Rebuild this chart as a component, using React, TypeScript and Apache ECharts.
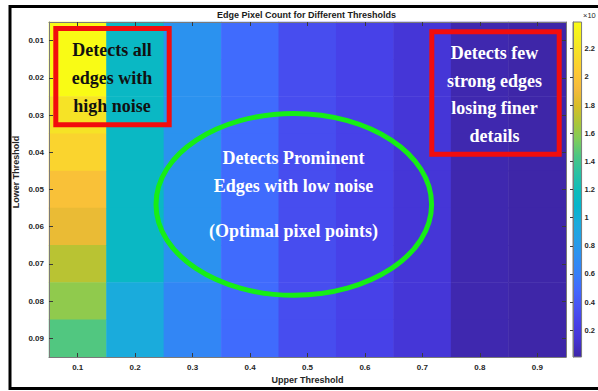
import { useEffect, useRef } from 'react';
import * as echarts from 'echarts';

// Axis categories
const upperThresholds = ['0.1', '0.2', '0.3', '0.4', '0.5', '0.6', '0.7', '0.8', '0.9'];
const lowerThresholds = ['0.01', '0.02', '0.03', '0.04', '0.05', '0.06', '0.07', '0.08', '0.09'];

// Edge pixel counts for each lower threshold, ordered by upper threshold
const countsLower001 = [23900, 11300, 7500, 5000, 3300, 2600, 1600, 300, 100];
const countsLower002 = [23900, 11300, 7500, 5000, 3300, 2600, 1600, 300, 100];
const countsLower003 = [22000, 11300, 7500, 5000, 3300, 2600, 1600, 300, 100];
const countsLower004 = [21000, 11300, 7500, 5000, 3300, 2600, 1600, 300, 100];
const countsLower005 = [19700, 11300, 7500, 5000, 3300, 2600, 1600, 300, 100];
const countsLower006 = [18700, 11300, 7500, 5000, 3300, 2600, 1600, 300, 100];
const countsLower007 = [17100, 11300, 7500, 5000, 3300, 2600, 1600, 300, 100];
const countsLower008 = [16000, 9600, 6500, 5000, 3300, 2600, 1600, 300, 100];
const countsLower009 = [14500, 9600, 6500, 5000, 3300, 2600, 1600, 300, 100];

const edgeCounts = [
  countsLower001, countsLower002, countsLower003, countsLower004, countsLower005,
  countsLower006, countsLower007, countsLower008, countsLower009,
];

// Colorbar tick values (labelled in units of 10^4)
const colorbarTicks = [2000, 4000, 6000, 8000, 10000, 12000, 14000, 16000, 18000, 20000, 22000];

// Parula colormap
const parula = [
  '#3e26a8', '#4433d1', '#473fe7', '#4753f3', '#4268fe', '#3580f8', '#2d8ff1', '#249fe6',
  '#1aabdc', '#06b5cc', '#0fbcb9', '#2ac1a2', '#4cc684', '#80cc59', '#acc638', '#d8bd28',
  '#f5ba3c', '#fec933', '#f7dc2a', '#f5ee20', '#f9fb15',
];

const sansFont = '"Liberation Sans", Arial, sans-serif';
const serifFont = '"Liberation Serif", "Times New Roman", serif';
const axisGray = '#7a7a7a';
const tickGray = '#3a3a3a';

export default function App() {
  const ref = useRef<HTMLDivElement>(null);

  useEffect(() => {
    if (!ref.current) return;
    const chart = echarts.init(ref.current, undefined, { renderer: 'svg' });

    const heatData: number[][] = [];
    edgeCounts.forEach((row, yi) => row.forEach((v, xi) => heatData.push([xi, yi, v])));
    const all = edgeCounts.flat();
    const countMin = Math.min(...all);
    const countMax = Math.max(...all);

    const labelStyle = {
      color: '#262626',
      fontSize: 8,
      fontWeight: 'bold' as const,
      fontFamily: sansFont,
    };
    const inTick = {
      show: true,
      inside: true,
      alignWithLabel: true,
      length: 4,
      lineStyle: { color: tickGray, width: 1 },
    };
    const boxLine = { show: true, lineStyle: { color: axisGray, width: 1 } };

    const gradientStops = parula.map((c, i) => ({ offset: i / (parula.length - 1), color: c }));

    chart.setOption({
      animation: false,
      backgroundColor: '#ffffff',
      title: {
        text: 'Edge Pixel Count for Different Thresholds',
        left: 217,
        top: 10,
        padding: 0,
        textStyle: { fontSize: 9, fontWeight: 'bold', color: '#1a1a1a', fontFamily: sansFont },
      },
      grid: [
        { left: 49, top: 22, width: 517, height: 335 },
        { left: 573, top: 22, width: 10, height: 335 },
      ],
      xAxis: [
        {
          type: 'category',
          gridIndex: 0,
          data: upperThresholds,
          position: 'bottom',
          axisLine: boxLine,
          axisTick: inTick,
          axisLabel: { ...labelStyle, margin: 6 },
          splitLine: { show: false },
          name: 'Upper Threshold',
          nameLocation: 'middle',
          nameGap: 18,
          nameTextStyle: { ...labelStyle, fontSize: 9 },
          z: 10,
        },
        {
          type: 'category',
          gridIndex: 0,
          data: upperThresholds,
          position: 'top',
          axisLine: boxLine,
          axisTick: inTick,
          axisLabel: { show: false },
          splitLine: { show: false },
          z: 10,
        },
        { type: 'value', gridIndex: 1, min: 0, max: 1, show: false },
      ],
      yAxis: [
        {
          type: 'category',
          gridIndex: 0,
          data: lowerThresholds,
          inverse: true,
          position: 'left',
          axisLine: boxLine,
          axisTick: inTick,
          axisLabel: { ...labelStyle, margin: 5 },
          splitLine: { show: false },
          z: 10,
        },
        {
          type: 'category',
          gridIndex: 0,
          data: lowerThresholds,
          inverse: true,
          position: 'right',
          axisLine: boxLine,
          axisTick: inTick,
          axisLabel: { show: false },
          splitLine: { show: false },
          z: 10,
        },
        {
          type: 'value',
          gridIndex: 1,
          min: countMin,
          max: countMax,
          position: 'right',
          axisLine: boxLine,
          axisTick: {
            show: true,
            inside: true,
            length: 3,
            customValues: colorbarTicks,
            lineStyle: { color: tickGray, width: 1 },
          },
          axisLabel: {
            ...labelStyle,
            fontSize: 7.5,
            margin: 3,
            customValues: colorbarTicks,
            formatter: (v: number) => String(v / 10000),
          },
          splitLine: { show: false },
          z: 10,
        },
      ],
      visualMap: {
        type: 'continuous',
        show: false,
        min: countMin,
        max: countMax,
        dimension: 2,
        seriesIndex: 0,
        inRange: { color: parula },
      },
      series: [
        {
          type: 'heatmap',
          xAxisIndex: 0,
          yAxisIndex: 0,
          data: heatData,
          itemStyle: { borderWidth: 0 },
          silent: true,
        },
        {
          type: 'custom',
          xAxisIndex: 2,
          yAxisIndex: 2,
          silent: true,
          data: [[0, countMax, 1, countMin]],
          renderItem: (_params: any, api: any) => {
            const p0 = api.coord([api.value(0), api.value(1)]);
            const p1 = api.coord([api.value(2), api.value(3)]);
            return {
              type: 'rect',
              shape: { x: p0[0], y: p0[1], width: p1[0] - p0[0], height: p1[1] - p0[1] },
              style: {
                fill: new echarts.graphic.LinearGradient(0, 1, 0, 0, gradientStops),
                stroke: axisGray,
                lineWidth: 1,
              },
            };
          },
        },
      ],
      graphic: [
        // outer frame
        {
          type: 'rect',
          z: 100,
          silent: true,
          shape: { x: 10, y: 6.5, width: 620, height: 382 },
          style: { fill: 'none', stroke: '#000000', lineWidth: 3 },
        },
        // y axis title
        {
          type: 'text',
          z: 100,
          x: 15.5,
          y: 172,
          rotation: Math.PI / 2,
          style: {
            text: 'Lower Threshold',
            fontSize: 9,
            fontWeight: 'bold',
            fontFamily: sansFont,
            fill: '#262626',
            textAlign: 'center',
            textVerticalAlign: 'middle',
          },
        },
        // colorbar exponent
        {
          type: 'text',
          z: 100,
          x: 583,
          y: 15,
          style: {
            text: '×10',
            fontSize: 7.5,
            fontFamily: sansFont,
            fill: '#262626',
            textAlign: 'left',
            textVerticalAlign: 'middle',
          },
        },
        // high-noise region
        {
          type: 'rect',
          z: 100,
          shape: { x: 55.8, y: 28.5, width: 113.4, height: 96.3 },
          style: { fill: 'none', stroke: '#f20d0d', lineWidth: 5 },
        },
        {
          type: 'text',
          z: 101,
          x: 112,
          y: 78,
          style: {
            text: 'Detects all\nedges with\nhigh noise',
            fontSize: 18,
            fontWeight: 'bold',
            fontFamily: serifFont,
            lineHeight: 28,
            fill: '#111111',
            textAlign: 'center',
            textVerticalAlign: 'middle',
          },
        },
        // strong-edge region
        {
          type: 'rect',
          z: 100,
          shape: { x: 431.8, y: 31.8, width: 127.4, height: 122.4 },
          style: { fill: 'none', stroke: '#f20d0d', lineWidth: 5 },
        },
        {
          type: 'text',
          z: 101,
          x: 494.5,
          y: 94.5,
          style: {
            text: 'Detects few\nstrong edges\nlosing finer\ndetails',
            fontSize: 18,
            fontWeight: 'bold',
            fontFamily: serifFont,
            lineHeight: 27.7,
            fill: '#ffffff',
            textAlign: 'center',
            textVerticalAlign: 'middle',
          },
        },
        // optimal region
        {
          type: 'ellipse',
          z: 100,
          shape: { cx: 293.8, cy: 204.4, rx: 137.8, ry: 90.9 },
          style: { fill: 'none', stroke: '#16ee16', lineWidth: 5 },
        },
        {
          type: 'text',
          z: 101,
          x: 293.5,
          y: 172,
          style: {
            text: 'Detects Prominent\nEdges with low noise',
            fontSize: 18,
            fontWeight: 'bold',
            fontFamily: serifFont,
            lineHeight: 28,
            fill: '#ffffff',
            textAlign: 'center',
            textVerticalAlign: 'middle',
          },
        },
        {
          type: 'text',
          z: 101,
          x: 293.5,
          y: 231,
          style: {
            text: '(Optimal pixel points)',
            fontSize: 18,
            fontWeight: 'bold',
            fontFamily: serifFont,
            fill: '#ffffff',
            textAlign: 'center',
            textVerticalAlign: 'middle',
          },
        },
      ],
    });

    return () => chart.dispose();
  }, []);

  return (
    <div
      ref={ref}
      style={{ position: 'fixed', left: 0, top: 0, width: 598, height: 391 }}
    />
  );
}
